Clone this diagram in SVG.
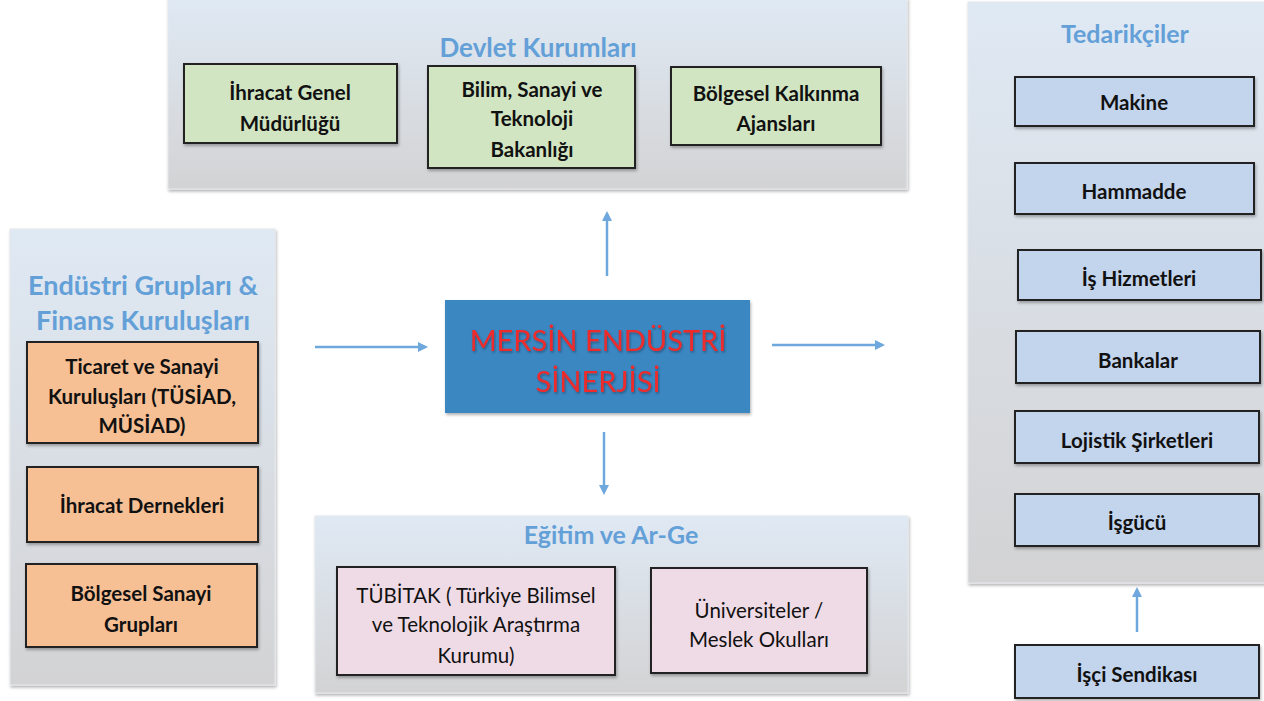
<svg xmlns="http://www.w3.org/2000/svg" width="1264" height="701" viewBox="0 0 1264 701">
<defs>
<linearGradient id="pg" x1="0" y1="0" x2="0" y2="1">
<stop offset="0" stop-color="#dfe9f4"/>
<stop offset="1" stop-color="#d3d3d4"/>
</linearGradient>
<filter id="sh" x="-5%" y="-5%" width="115%" height="120%">
<feDropShadow dx="1" dy="2" stdDeviation="1.5" flood-color="#000" flood-opacity="0.3"/>
</filter>
<filter id="tsh" x="-5%" y="-20%" width="110%" height="150%">
<feDropShadow dx="1" dy="1.5" stdDeviation="1" flood-color="#000" flood-opacity="0.35"/>
</filter>
<marker id="ah" markerWidth="10" markerHeight="10" refX="7" refY="5" orient="auto" markerUnits="userSpaceOnUse">
<path d="M0,0 L10,5 L0,10 Z" fill="#6fa8dc"/>
</marker>
</defs>
<style>
.panel{fill:url(#pg);stroke:#e4e8ec;stroke-width:1;filter:url(#sh)}
.box{stroke:#222;stroke-width:2;filter:url(#sh)}
.g{fill:#d2e5c2}.o{fill:#f6bf94}.p{fill:#efdbe6}.b{fill:#c3d4ed}
.t{font-family:Lato,"Open Sans","Liberation Sans",sans-serif;font-size:20.5px;font-weight:bold;fill:#111;text-anchor:middle}
.tn{font-weight:normal;font-size:20.5px}
.h{font-family:Lato,"Open Sans","Liberation Sans",sans-serif;font-weight:bold;fill:#64a0d8;text-anchor:middle}
.c{stroke:#6fa8dc;stroke-width:2.5;fill:none;marker-end:url(#ah)}
</style>

<g id="devlet">
<rect class="panel" x="168" y="-2" width="739" height="191"/>
<text class="h" x="538" y="57" font-size="26">Devlet Kurumları</text>
</g>
<g id="ihracat-genel">
<rect class="box g" x="184" y="64" width="213" height="79"/>
<text class="t" x="290" y="100">İhracat Genel</text>
<text class="t" x="290" y="131">Müdürlüğü</text>
</g>
<g id="bilim">
<rect class="box g" x="428" y="66" width="207" height="102"/>
<text class="t" x="532" y="97">Bilim, Sanayi ve</text>
<text class="t" x="532" y="126">Teknoloji</text>
<text class="t" x="532" y="157">Bakanlığı</text>
</g>
<g id="bolgesel-kalkinma">
<rect class="box g" x="671" y="67" width="210" height="78"/>
<text class="t" x="776" y="101">Bölgesel Kalkınma</text>
<text class="t" x="776" y="131">Ajansları</text>
</g>

<g id="endustri">
<rect class="panel" x="10" y="229" width="265" height="456"/>
<text class="h" x="143" y="295" font-size="27">Endüstri Grupları &amp;</text>
<text class="h" x="143" y="330" font-size="27">Finans Kuruluşları</text>
</g>
<g id="ticaret">
<rect class="box o" x="27" y="342" width="231" height="101"/>
<text class="t" x="142" y="374">Ticaret ve Sanayi</text>
<text class="t" x="142" y="404">Kuruluşları (TÜSİAD,</text>
<text class="t" x="142" y="433">MÜSİAD)</text>
</g>
<g id="ihracat-dernekleri">
<rect class="box o" x="27" y="467" width="231" height="75"/>
<text class="t" x="142" y="513">İhracat Dernekleri</text>
</g>
<g id="bolgesel-sanayi">
<rect class="box o" x="26" y="564" width="231" height="83"/>
<text class="t" x="141" y="601">Bölgesel Sanayi</text>
<text class="t" x="141" y="632">Grupları</text>
</g>

<g id="mersin">
<rect x="445" y="300" width="305" height="113" fill="#3b87c2" filter="url(#sh)"/>
<text x="598" y="351" font-family="Lato,'Open Sans','Liberation Sans',sans-serif" font-size="29" fill="#ee2a2a" text-anchor="middle" filter="url(#tsh)">MERSİN ENDÜSTRİ</text>
<text x="598" y="392" font-family="Lato,'Open Sans','Liberation Sans',sans-serif" font-size="29" fill="#ee2a2a" text-anchor="middle" filter="url(#tsh)">SİNERJİSİ</text>
</g>

<g id="egitim">
<rect class="panel" x="315" y="516" width="593" height="177"/>
<text class="h" x="611" y="544" font-size="25">Eğitim ve Ar-Ge</text>
</g>
<g id="tubitak">
<rect class="box p" x="337" y="567" width="278" height="108"/>
<text class="t tn" x="476" y="603">TÜBİTAK ( Türkiye Bilimsel</text>
<text class="t tn" x="476" y="632">ve Teknolojik Araştırma</text>
<text class="t tn" x="476" y="663">Kurumu)</text>
</g>
<g id="universiteler">
<rect class="box p" x="651" y="568" width="216" height="105"/>
<text class="t tn" x="759" y="618">Üniversiteler /</text>
<text class="t tn" x="759" y="647">Meslek Okulları</text>
</g>

<g id="tedarikciler">
<rect class="panel" x="968" y="2" width="300" height="581"/>
<text class="h" x="1125" y="43" font-size="25">Tedarikçiler</text>
</g>
<g id="makine">
<rect class="box b" x="1015" y="77" width="239" height="49"/>
<text class="t" x="1134" y="110">Makine</text>
</g>
<g id="hammadde">
<rect class="box b" x="1015" y="163" width="239" height="51"/>
<text class="t" x="1134" y="199">Hammadde</text>
</g>
<g id="is-hizmetleri">
<rect class="box b" x="1018" y="250" width="243" height="50"/>
<text class="t" x="1139" y="286">İş Hizmetleri</text>
</g>
<g id="bankalar">
<rect class="box b" x="1016" y="331" width="244" height="52"/>
<text class="t" x="1138" y="368">Bankalar</text>
</g>
<g id="lojistik">
<rect class="box b" x="1015" y="411" width="244" height="52"/>
<text class="t" x="1137" y="448">Lojistik Şirketleri</text>
</g>
<g id="isgucu">
<rect class="box b" x="1015" y="494" width="244" height="52"/>
<text class="t" x="1137" y="530">İşgücü</text>
</g>
<g id="isci-sendikasi">
<rect class="box b" x="1015" y="645" width="244" height="53"/>
<text class="t" x="1137" y="682">İşçi Sendikası</text>
</g>

<g id="connectors">
<line class="c" x1="315" y1="347" x2="425" y2="347"/>
<line class="c" x1="772" y1="345" x2="882" y2="345"/>
<line class="c" x1="607" y1="276" x2="607" y2="214"/>
<line class="c" x1="604" y1="432" x2="604" y2="492"/>
<line class="c" x1="1137" y1="632" x2="1137" y2="590"/>
</g>
</svg>
